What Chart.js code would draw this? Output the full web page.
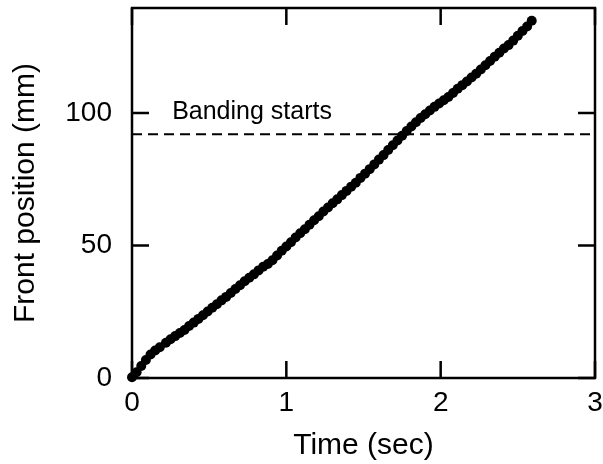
<!DOCTYPE html>
<html>
<head>
<meta charset="utf-8">
<script src="https://cdn.jsdelivr.net/npm/chart.js@4.4.1/dist/chart.umd.min.js"></script>
<style>
  html, body { margin: 0; padding: 0; background: #fff; }
  #wrap { width: 603px; height: 464px; }
</style>
</head>
<body>
<div id="wrap"><canvas id="frontChart" width="603" height="464"></canvas></div>
<script>
// measured front position vs time
const timeSec = [
  0.00, 0.03, 0.06, 0.09, 0.12, 0.15, 0.18, 0.22, 0.25, 0.28,
  0.31, 0.34, 0.37, 0.40, 0.43, 0.46, 0.49, 0.52, 0.55, 0.58,
  0.61, 0.64, 0.67, 0.70, 0.73, 0.76, 0.79, 0.82, 0.85, 0.88,
  0.91, 0.94, 0.97, 1.00, 1.03, 1.06, 1.09, 1.12, 1.15, 1.18,
  1.21, 1.24, 1.27, 1.30, 1.33, 1.36, 1.39, 1.42, 1.45, 1.48,
  1.51, 1.54, 1.57, 1.60, 1.63, 1.66, 1.69, 1.72, 1.75, 1.78,
  1.81, 1.84, 1.87, 1.90, 1.93, 1.96, 1.99, 2.02, 2.05, 2.08,
  2.11, 2.14, 2.17, 2.20, 2.23, 2.26, 2.29, 2.32, 2.35, 2.38,
  2.41, 2.44, 2.47, 2.50, 2.53, 2.56, 2.59
];
const frontMm = [
  0.3, 2.2, 4.5, 6.8, 8.9, 10.4, 11.6, 13.3, 14.6, 15.8,
  17.0, 18.1, 19.6, 20.9, 22.3, 23.7, 25.1, 26.5, 27.8, 29.3,
  30.6, 32.1, 33.6, 35.0, 36.5, 37.8, 39.1, 40.6, 42.0, 43.0,
  44.4, 46.2, 48.0, 49.6, 51.2, 53.0, 54.6, 56.1, 57.8, 59.5,
  61.0, 62.8, 64.3, 65.9, 67.4, 69.0, 70.6, 72.2, 73.7, 75.5,
  77.1, 78.8, 80.6, 82.4, 84.1, 86.0, 87.8, 89.6, 91.4, 93.2,
  94.9, 96.5, 98.1, 99.5, 100.9, 102.3, 103.6, 104.8, 106.0, 107.5,
  109.1, 110.5, 111.9, 113.4, 114.8, 116.4, 118.0, 119.6, 121.2, 122.7,
  124.3, 125.6, 127.3, 129.1, 130.9, 132.6, 134.8
];
const xTicks = [0, 1, 2, 3];
const yTicks = [0, 50, 100];
const bandingLevel = 92;
const bandingLabel = 'Banding starts';

const points = timeSec.map((t, i) => ({ x: t, y: frontMm[i] }));
const FONT = '"Liberation Sans", Arial, Helvetica, sans-serif';

// box frame, inward ticks on all sides, dashed banding line
const framePlugin = {
  id: 'frame',
  afterDatasetsDraw(chart) {
    const { ctx, chartArea: a, scales: { x, y } } = chart;
    ctx.save();
    ctx.strokeStyle = '#000';
    ctx.lineWidth = 2.5;
    ctx.strokeRect(a.left, a.top, a.right - a.left, a.bottom - a.top);
    const len = 17;
    ctx.beginPath();
    xTicks.forEach(v => {
      const px = x.getPixelForValue(v);
      ctx.moveTo(px, a.bottom); ctx.lineTo(px, a.bottom - len);
      ctx.moveTo(px, a.top); ctx.lineTo(px, a.top + len);
    });
    yTicks.forEach(v => {
      const py = y.getPixelForValue(v);
      ctx.moveTo(a.left, py); ctx.lineTo(a.left + len, py);
      ctx.moveTo(a.right, py); ctx.lineTo(a.right - len, py);
    });
    ctx.stroke();

    const by = y.getPixelForValue(bandingLevel);
    ctx.lineWidth = 2;
    ctx.setLineDash([10, 6]);
    ctx.beginPath();
    ctx.moveTo(a.left, by); ctx.lineTo(a.right, by);
    ctx.stroke();
    ctx.setLineDash([]);

    ctx.fillStyle = '#000';
    ctx.font = '25px ' + FONT;
    ctx.textBaseline = 'middle';
    ctx.fillText(bandingLabel, x.getPixelForValue(0.26), y.getPixelForValue(100.5));
    ctx.restore();
  }
};

// drop the label overhang padding chart.js adds, so the box sits where the layout says
function noOverhang(s) {
  s.paddingTop = 0; s.paddingBottom = 0; s.paddingLeft = 0; s.paddingRight = 0;
}

new Chart(document.getElementById('frontChart'), {
  type: 'scatter',
  data: {
    datasets: [{
      data: points,
      showLine: true,
      borderColor: '#000',
      borderWidth: 1.5,
      backgroundColor: '#000',
      pointRadius: 5,
      pointBorderWidth: 0,
      clip: false
    }]
  },
  options: {
    responsive: false,
    animation: false,
    layout: { padding: { top: 8, right: 8, left: 0, bottom: 0 } },
    plugins: { legend: { display: false }, tooltip: { enabled: false } },
    scales: {
      x: {
        type: 'linear', min: 0, max: 3,
        grid: { display: false },
        border: { display: false },
        afterBuildTicks: s => { s.ticks = xTicks.map(v => ({ value: v })); },
        afterFit: s => { s.height = 86; noOverhang(s); },
        ticks: { color: '#000', padding: 0, font: { size: 28, family: FONT } },
        title: { display: true, text: 'Time (sec)', color: '#000', padding: { top: 0, bottom: 0 }, font: { size: 30, family: FONT } }
      },
      y: {
        type: 'linear', min: 0, max: 139.6,
        grid: { display: false },
        border: { display: false },
        afterBuildTicks: s => { s.ticks = yTicks.map(v => ({ value: v })); },
        afterFit: s => { s.width = 132; noOverhang(s); },
        ticks: { color: '#000', padding: 12, font: { size: 28, family: FONT } },
        title: { display: true, text: 'Front position (mm)', color: '#000', padding: { top: 8, bottom: 0 }, font: { size: 30, family: FONT } }
      }
    }
  },
  plugins: [framePlugin]
});
</script>
</body>
</html>
